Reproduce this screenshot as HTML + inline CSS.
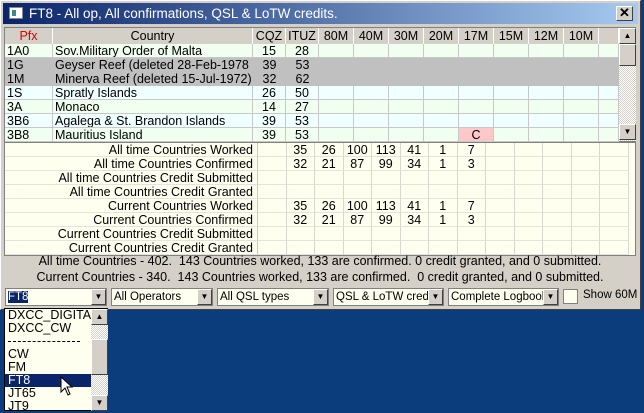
<!DOCTYPE html>
<html><head><meta charset="utf-8"><style>
*{box-sizing:border-box;margin:0;padding:0}
body{width:644px;height:411px;overflow:hidden;background:#0b3d7c;font-family:"Liberation Sans",Arial,sans-serif;font-size:12px;position:relative}
.abs{position:absolute}
#win{left:0;top:0;width:641px;height:310px;background:#d4d0c8;border:1px solid #fff;border-right-color:#404040;border-bottom-color:#404040}
#title{left:3px;top:3px;width:635px;height:21px;background:linear-gradient(90deg,#0a246a,#a6caf0)}
.cell{position:absolute;height:14px;line-height:14px;white-space:nowrap;overflow:hidden}
.hd{background:#d4d0c8;border-right:1px solid #fff;height:16px;line-height:16px;text-align:center;color:#000;font-size:12.5px}
.sb{background:#d4d0c8;border:1px solid;border-color:#fff #404040 #404040 #fff}
.combo{position:absolute;top:288px;height:18px;background:#fffff0;border:1px solid #808080;font-size:11.5px;line-height:16px;padding-left:2px;white-space:nowrap;overflow:hidden}
.btn{position:absolute;right:0;top:0;width:15px;height:16px;background:#d4d0c8;border:1px solid;border-color:#fff #404040 #404040 #fff;font-size:8px;text-align:center;line-height:14px}
</style></head><body>
<div id="win" class="abs"></div>
<div id="title" class="abs">
  <div class="abs" style="left:6px;top:4px;width:14px;height:12px;background:#fff;border:1px solid #888"><div class="abs" style="left:2px;top:2px;width:4px;height:6px;background:#3a8a8a"></div></div>
  <div class="abs" style="left:26px;top:2px;color:#fff;font-size:13.5px;line-height:17px">FT8 - All op, All confirmations, QSL &amp; LoTW credits.</div>
  <div class="abs sb" style="left:613px;top:3px;width:17px;height:15px;font-weight:bold;font-size:13px;line-height:12px;text-align:center">✕</div>
</div>
<div id="grid" class="abs" style="left:4px;top:27px;width:632px;height:115px;background:#d4d0c8;border:1px solid #808080"></div>
<div id="sum" class="abs" style="left:4px;top:142px;width:632px;height:114px;background:#fffff0;border:1px solid #808080"></div>
<div class="abs" style="left:4px;top:253px;width:632px;height:32px;text-align:center;font-size:12.5px;line-height:16px">
<div>All time Countries - 402.&nbsp; 143 Countries worked, 133 are confirmed. 0 credit granted, and 0 submitted.</div>
<div>Current Countries - 340.&nbsp; 143 Countries worked, 133 are confirmed.&nbsp; 0 credit granted, and 0 submitted.</div>
</div>
<div class="combo" style="left:5px;width:102px"><span style="background:#0a246a;color:#fff">FT8</span><div class="btn">▼</div></div>
<div class="combo" style="left:111px;width:102px">All Operators<div class="btn">▼</div></div>
<div class="combo" style="left:217px;width:112px">All QSL types<div class="btn">▼</div></div>
<div class="combo" style="left:333px;width:111px">QSL &amp; LoTW credi<div class="btn">▼</div></div>
<div class="combo" style="left:448px;width:111px">Complete Logbook<div class="btn">▼</div></div>
<div class="abs" style="left:563px;top:289px;width:15px;height:15px;background:#fffff0;border:1px solid #808080"></div>
<div class="abs" style="left:583px;top:289px;font-size:11.5px">Show 60M</div>
<div class="abs" style="left:4px;top:308px;width:104px;height:103px;background:#fffff0;border:1px solid #000">
 <div class="abs" style="left:3px;top:0;line-height:13px;font-size:12.5px">
  <div>DXCC_DIGITAL</div><div>DXCC_CW</div><div style="height:13px;position:relative"><div style="position:absolute;top:6px;left:0;width:72px;border-top:1px dashed #000"></div></div><div>CW</div><div>FM</div><div style="background:#0a246a;color:#fff;width:86px;margin-left:-3px;padding-left:3px">FT8</div><div>JT65</div><div>JT9</div>
 </div>
 <div class="abs" style="left:86px;top:0;width:17px;height:102px;background:repeating-conic-gradient(#d4d0c8 0 25%,#fff 0 50%) 0 0/2px 2px">
  <div class="abs sb" style="left:0;top:0;width:17px;height:16px;font-size:8px;text-align:center;line-height:13px">▲</div>
  <div class="abs sb" style="left:0;top:30px;width:17px;height:36px"></div>
  <div class="abs sb" style="left:0;top:86px;width:17px;height:16px;font-size:8px;text-align:center;line-height:13px">▼</div>
 </div>
</div>
<svg class="abs" style="left:60px;top:376px" width="14" height="22"><path d="M1 1 L1 16 L5 12 L8 19 L10 18 L7 11 L12 11 Z" fill="#fff" stroke="#000"/></svg>
<script>
const bands=["80M","40M","30M","20M","17M","15M","12M","10M"];
const pfx=["1A0","1G","1M","1S","3A","3B6","3B8"];
const countries=["Sov.Military Order of Malta","Geyser Reef  (deleted 28-Feb-1978","Minerva Reef  (deleted 15-Jul-1972)","Spratly Islands","Monaco","Agalega & St. Brandon Islands","Mauritius Island"];
const cqz=[15,39,32,26,14,39,39];
const ituz=[28,53,62,50,27,53,53];
const deleted=[false,true,true,false,false,false,false];
const marks=[[],[],[],[],[],[],[[4,"C"]]];
const sumLabels=["All time Countries Worked","All time Countries Confirmed","All time Countries Credit Submitted","All time Countries Credit Granted","Current Countries Worked","Current Countries Confirmed","Current Countries Credit Submitted","Current Countries Credit Granted"];
const sumVals=[[35,26,100,113,41,1,7],[32,21,87,99,34,1,3],[],[],[35,26,100,113,41,1,7],[32,21,87,99,34,1,3],[],[]];
const g=document.getElementById('grid');
const cols=[[0,48],[48,200],[248,33],[281,33]];
bands.forEach((b,i)=>cols.push([314+i*35,35]));
cols.push([594,20]);
function mk(parent,cls,x,y,w,txt,style){const d=document.createElement('div');d.className=cls;d.style.left=x+'px';d.style.top=y+'px';d.style.width=w+'px';if(style)d.style.cssText+=style;d.textContent=txt;parent.appendChild(d);return d;}
const heads=["Pfx","Country","CQZ","ITUZ"].concat(bands).concat([""]);
heads.forEach((h,i)=>{const d=mk(g,'cell hd',cols[i][0],0,cols[i][1],h,i==0?'color:#e00000':'');

});
pfx.forEach((p,r)=>{const y=16+r*14;
 const bg=deleted[r]?'#c0c0c0':(r%2==0?'#f0fff0':'#f0ffff');
 const row=document.createElement('div');row.className='cell';row.style.cssText=`left:0;top:${y}px;width:614px;background:${bg}`;
 
 
 g.appendChild(row);
 const vals=[p,countries[r],cqz[r],ituz[r]];
 cols.forEach((c,i)=>{const bl=deleted[r]?'none':'1px solid #c8c8c8';
  const m=marks[r].find(k=>k[0]==i-4);
  const d=mk(row,'cell',c[0],0,c[1],i<4?vals[i]:(m?m[1]:''),`border-right:${bl};border-bottom:${bl};text-align:${i<2?'left':'center'};padding-left:${i<2?'2px':'0'};font-size:12.5px;${m?'background:#ffc8c8;':''}`);
  
  });
});
const sb=document.createElement('div');sb.className='abs';sb.style.cssText='left:614px;top:0;width:17px;height:113px;background:repeating-conic-gradient(#d4d0c8 0 25%,#fff 0 50%) 0 0/2px 2px';


sb.innerHTML='<div class="abs sb" style="left:0;top:0;width:17px;height:16px;font-size:8px;text-align:center;line-height:13px">▲</div><div class="abs sb" style="left:0;top:16px;width:17px;height:22px"></div><div class="abs sb" style="left:0;top:96px;width:17px;height:16px;font-size:8px;text-align:center;line-height:13px">▼</div>';
g.appendChild(sb);
const s=document.getElementById('sum');
const sx=253, cw=28.5;
sumLabels.forEach((l,r)=>{const y=r*14;
 const lab=mk(s,'cell',0,y,sx,l,'text-align:right;padding-right:4px;border-bottom:1px solid #e4e4dc;border-right:1px solid #c8c8c8;line-height:14px;font-size:12.5px');
 
 
 for(let i=0;i<13;i++){const v=(i>=1&&i<=7)?sumVals[r][i-1]:undefined;
  const d=mk(s,'cell',sx+i*cw,y,cw,v===undefined?'':v,'text-align:center;border-bottom:1px solid #e4e4dc;border-right:1px solid #d8d8d0;font-size:12.5px');
  
  }
});
</script>
</body></html>
